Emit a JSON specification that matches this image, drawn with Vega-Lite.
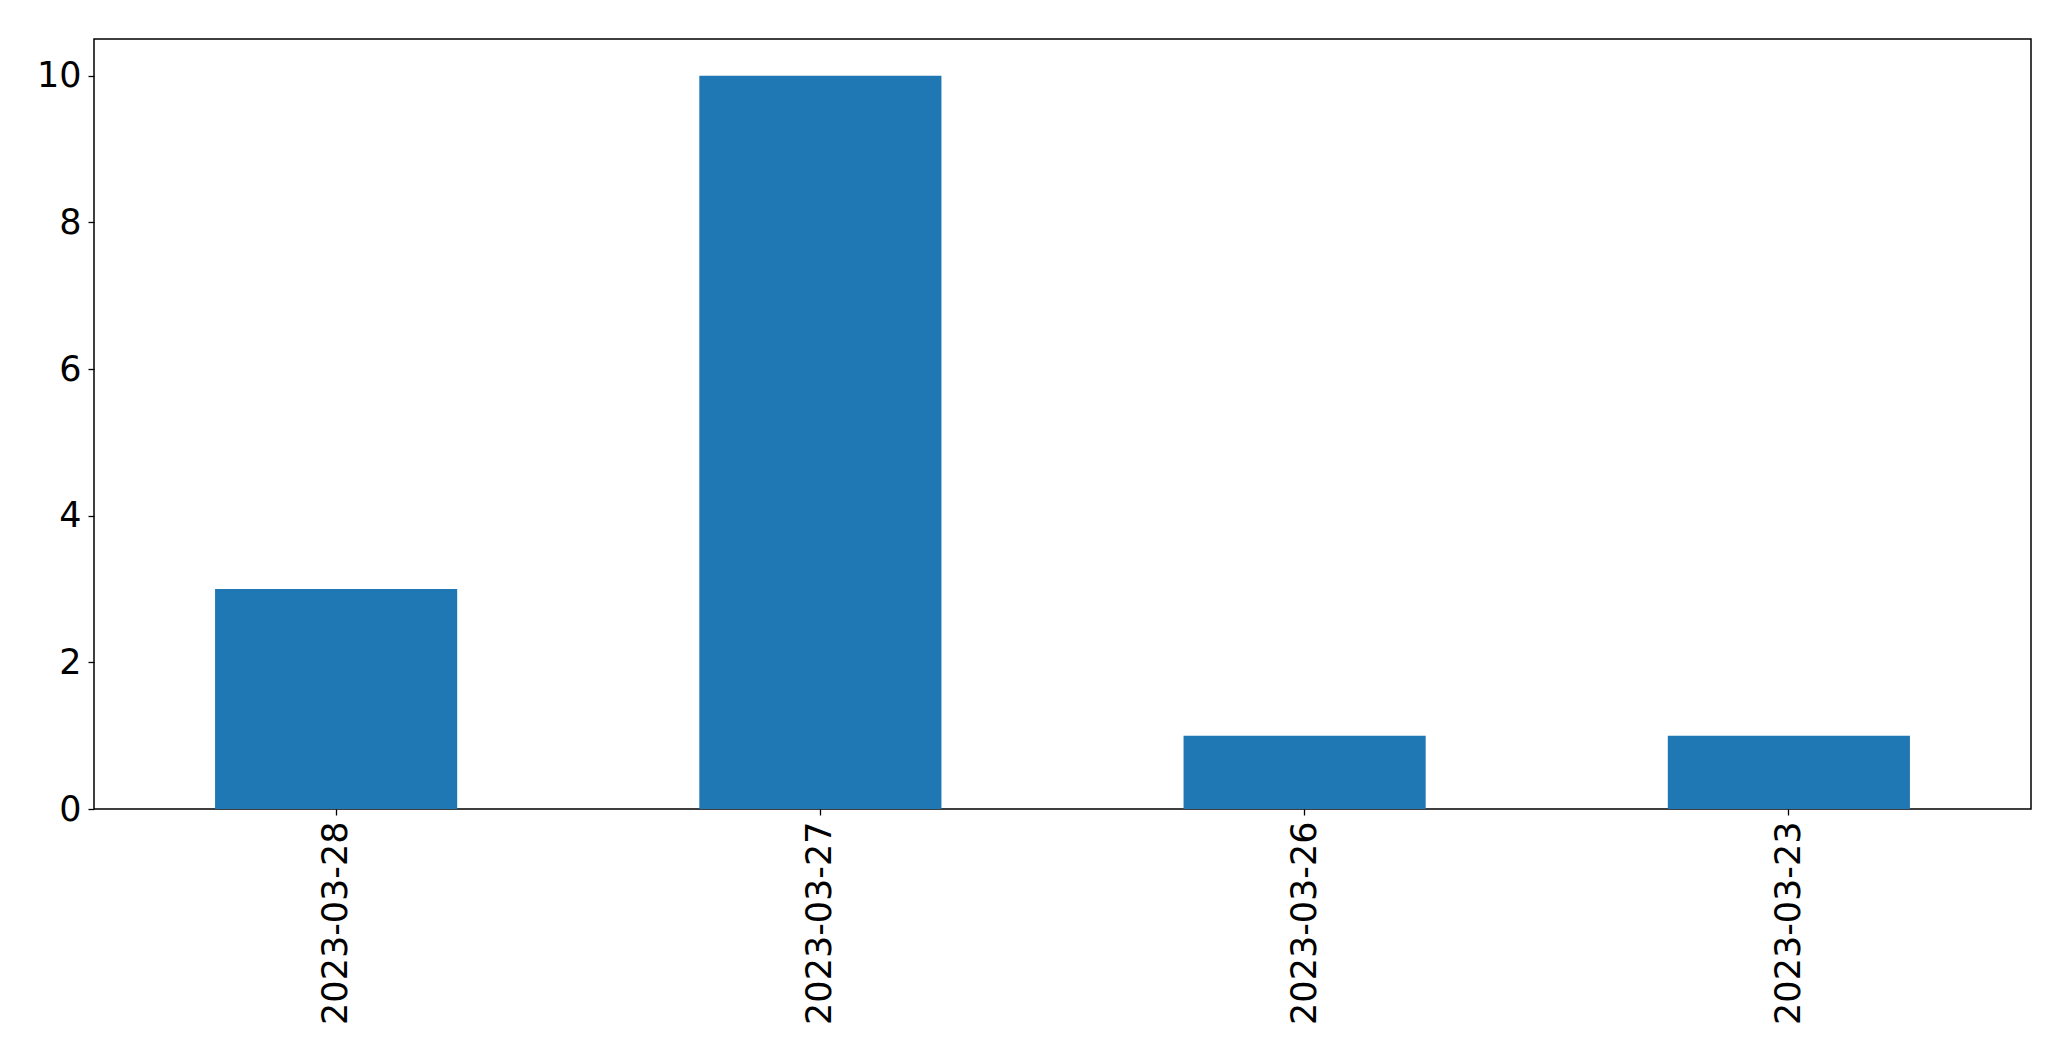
{
  "$schema": "https://vega.github.io/schema/vega-lite/v6.json",
  "autosize": {"type": "none"},
  "padding": {"left": 94, "top": 39, "right": 40, "bottom": 252},
  "width": 1937,
  "height": 770,
  "background": "white",
  "config": {
    "view": {"stroke": "black", "strokeWidth": 1.5},
    "font": "DejaVu Sans",
    "axis": {
      "grid": false,
      "domain": false,
      "tickColor": "black",
      "tickSize": 6,
      "tickWidth": 1.3,
      "labelColor": "black",
      "labelFont": "DejaVu Sans",
      "labelFontSize": 35,
      "labelLimit": 0,
      "title": null
    }
  },
  "data": {
    "values": [
      {"date": "2023-03-28", "count": 3},
      {"date": "2023-03-27", "count": 10},
      {"date": "2023-03-26", "count": 1},
      {"date": "2023-03-23", "count": 1}
    ]
  },
  "mark": {"type": "bar", "color": "#1f77b4"},
  "encoding": {
    "x": {
      "field": "date",
      "type": "nominal",
      "sort": null,
      "scale": {"paddingInner": 0.5, "paddingOuter": 0.25},
      "axis": {"labelAngle": -90, "labelPadding": 6}
    },
    "y": {
      "field": "count",
      "type": "quantitative",
      "scale": {"domain": [0, 10.5], "nice": false},
      "axis": {"values": [0, 2, 4, 6, 8, 10], "labelPadding": 7}
    }
  }
}
